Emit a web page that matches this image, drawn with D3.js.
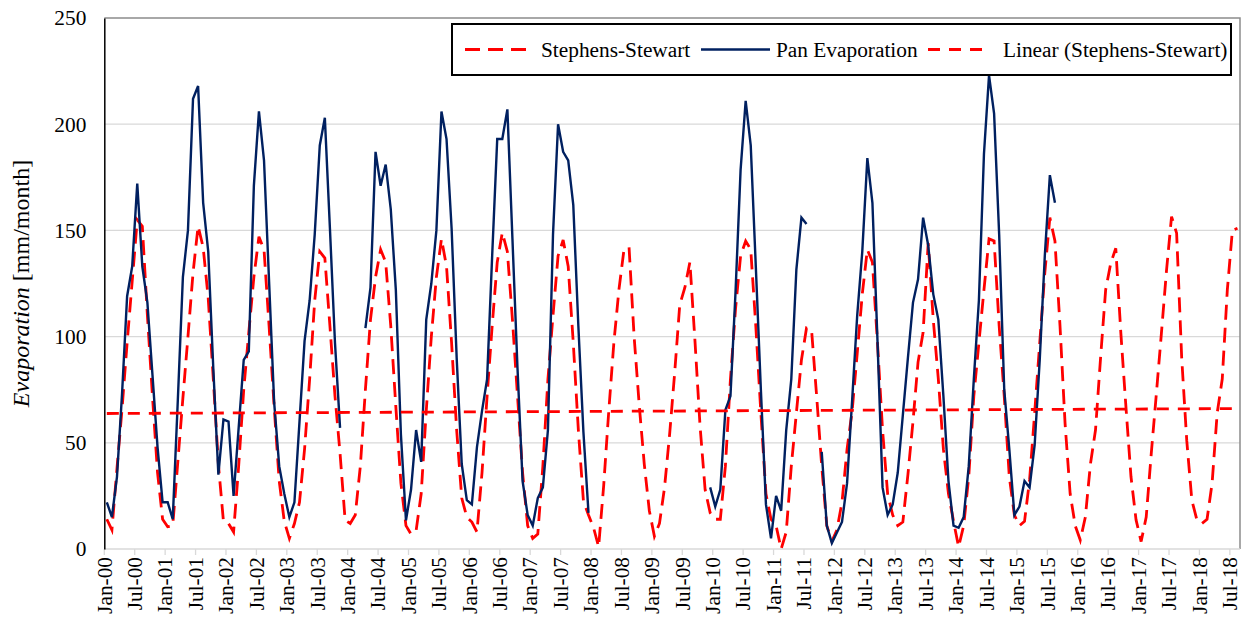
<!DOCTYPE html>
<html>
<head>
<meta charset="utf-8">
<script src="https://cdn.jsdelivr.net/npm/d3@7"></script>
<style>
  html, body { margin: 0; padding: 0; background: #ffffff; }
  svg { display: block; font-family: "Liberation Serif", "Times New Roman", serif; }
</style>
</head>
<body>
<svg id="chart" width="1247" height="621"></svg>
<script>
// Monthly evaporation, first month January 2000
const startMonth = new Date(2000, 0, 1);

// Stephens-Stewart estimate, mm/month (Jan-00 .. Aug-18)
const stephensStewart = [
  14, 9, 38, 66, 97, 126, 155, 152, 110, 72, 36, 14,          // 2000
  10.5, 11, 41, 71, 100, 130, 152, 142, 118, 80, 40, 13,      // 2001
  12, 8, 39, 75, 102, 128, 147, 141, 105, 67, 32, 13,         // 2002
  5, 12, 22, 47, 80, 117, 140, 137, 105, 72, 45, 13.5,        // 2003
  12, 16, 39, 75, 108, 128, 141, 135, 105, 67, 31, 11,        // 2004
  7, 8.6, 26, 65, 100, 128, 146, 133, 97, 56, 24, 15,         // 2005
  12.7, 8, 36, 72, 105, 135, 149, 140, 108, 72, 36, 11,       // 2006
  5, 7, 39, 80, 110, 138, 145.5, 133, 97, 56, 22.6, 16,       // 2007
  10, 1, 30, 65, 97, 122, 141, 142, 100, 68, 40, 18,          // 2008
  6, 12, 29, 54, 83, 115, 123, 135, 98, 58, 28, 17,           // 2009
  14, 14, 39, 80, 113, 138, 145, 141, 105, 64, 26, 14,        // 2010
  11, 0, 8, 39, 64, 89, 104, 103, 72, 39, 11, 3.6,            // 2011
  9, 22, 47, 65, 92, 120, 141, 135, 97, 56, 26, 16,           // 2012
  11, 12.7, 35, 60, 88, 102, 144, 108, 80, 47, 26, 13,        // 2013
  1, 11, 34, 72, 97, 122, 146, 145, 105, 72, 34, 16,          // 2014
  11, 13, 32.5, 64, 97, 130, 156, 145, 105, 59, 26, 11,       // 2015
  4.2, 15, 40, 56, 90, 122, 134.5, 141.6, 101.6, 67, 34, 13.7, // 2016
  3.5, 15, 45, 73, 101.6, 131, 156.5, 148.7, 90, 51, 23, 13.7, // 2017
  12, 14, 31, 64, 80, 122, 150, 151                           // 2018
];

// Measured pan evaporation, mm/month (null = no record)
const panEvaporation = [
  22, 15, 34, 73, 119, 133, 172, 133, 116, 82, 48, 22,        // 2000
  22, 14, 70, 128, 150, 212, 218, 163, 140, 85, 35, 61,       // 2001
  60, 25, 57, 89, 93, 171, 206, 183, 126, 69, 39, 26,         // 2002
  15, 22, 60, 98, 117, 148, 190, 203, 151, 97, 57, null,      // 2003
  null, null, null, 104, 123, 187, 171, 181, 160, 122, 54, 13.5, // 2004
  28, 56, 41, 108, 125, 150, 206, 193, 151, 90, 40, 23,       // 2005
  21, 48, 65, 80, 138, 193, 193, 207, 146, 85, 32, 16,        // 2006
  11, 24, 29, 56, 148, 200, 187, 183, 162, 105, 55, 17,       // 2007
  null, null, null, null, null, null, null, null, null, null, null, null, // 2008
  null, null, null, null, null, null, null, null, null, null, null, 29,   // 2009
  20, 28, 65.5, 72, 121, 178.5, 211, 190, 133, 75, 21, 5,     // 2010
  25, 18, 56, 80, 131.5, 156, 153, null, null, 45.7, 11, 2.8, // 2011
  7.8, 12.7, 31, 70, 110, 140, 184, 163, 98, 29, 16, 21,      // 2012
  36, 63, 90, 116, 127, 156, 143, 120, 108, 72, 32, 11,       // 2013
  10, 15, 39, 80, 117, 186, 223, 205, 148, 75, 47, 16,        // 2014
  20, 32, 29, 49, 89, 138, 176, 163                           // 2015
];

// Linear trend of the Stephens-Stewart series at its first and last month
const trendEnds = [63.8, 66.1];

const yTicks = [0, 50, 100, 150, 200, 250];
const seriesNames = ["Stephens-Stewart", "Pan Evaporation", "Linear (Stephens-Stewart)"];

// ---- layout ----
const plot = { left: 104.3, right: 1240, top: 18, bottom: 549 };
const RED = "#ff0000", NAVY = "#002060", GRID = "#d9d9d9", BORDER = "#8c8c8c";
const FONT = 21.33;

const svg = d3.select("#chart");

const months = d3.timeMonth.range(startMonth, d3.timeMonth.offset(startMonth, stephensStewart.length));
const idx = d3.range(months.length);

const x = d3.scaleBand().domain(idx).range([plot.left, plot.right]).paddingInner(0).paddingOuter(0);
const cx = i => x(i) + x.bandwidth() / 2;
const y = d3.scaleLinear().domain([0, 250]).range([plot.bottom, plot.top]);

// horizontal gridlines
svg.append("g")
  .selectAll("line")
  .data(yTicks.filter(v => v > 0 && v < 250))
  .join("line")
  .attr("x1", plot.left).attr("x2", plot.right)
  .attr("y1", d => y(d)).attr("y2", d => y(d))
  .attr("stroke", GRID).attr("stroke-width", 1.3);

// plot-area border (top and right)
svg.append("path")
  .attr("d", `M${plot.left},${y(250)}H${plot.right}V${plot.bottom}`)
  .attr("fill", "none").attr("stroke", BORDER).attr("stroke-width", 1.5);

// x axis: ticks at the start of every January and July
const fmt = d3.timeFormat("%b-%y");
const tickIdx = idx.filter(i => months[i].getMonth() % 6 === 0);
const xAxis = svg.append("g")
  .attr("transform", `translate(${-x.bandwidth() / 2},${plot.bottom})`)
  .call(d3.axisBottom(x).tickValues(tickIdx).tickFormat(i => fmt(months[i])).tickSize(6).tickSizeOuter(0));
xAxis.select(".domain").remove();
xAxis.selectAll(".tick line").attr("stroke", GRID).attr("stroke-width", 1.3);
xAxis.selectAll(".tick text")
  .attr("transform", "rotate(-90)")
  .attr("text-anchor", "end")
  .attr("x", -8).attr("y", 0).attr("dy", "0.34em")
  .attr("fill", "#000")
  .style("font-size", FONT + "px")
  .style("font-family", "'Liberation Serif', 'Times New Roman', serif");

svg.append("line")
  .attr("x1", plot.left).attr("x2", plot.right)
  .attr("y1", plot.bottom).attr("y2", plot.bottom)
  .attr("stroke", GRID).attr("stroke-width", 1.5);

// y axis
const yAxis = svg.append("g")
  .attr("transform", `translate(${plot.left},0)`)
  .call(d3.axisLeft(y).tickValues(yTicks).tickSize(0).tickSizeOuter(0).tickPadding(18));
yAxis.select(".domain").attr("stroke", "#000").attr("stroke-width", 1.5);
yAxis.selectAll(".tick text")
  .attr("fill", "#000")
  .style("font-size", FONT + "px")
  .style("font-family", "'Liberation Serif', 'Times New Roman', serif");

// y title
const yTitle = svg.append("text")
  .attr("transform", `translate(29,${(plot.top + plot.bottom) / 2}) rotate(-90)`)
  .attr("text-anchor", "middle")
  .style("font-size", "24px");
yTitle.append("tspan").style("font-style", "italic").text("Evaporation");
yTitle.append("tspan").text(" [mm/month]");

// series
const line = d3.line()
  .defined(d => d.v != null)
  .x(d => cx(d.i))
  .y(d => y(d.v));

const ssPoints = stephensStewart.map((v, i) => ({ i, v }));
const panPoints = panEvaporation.map((v, i) => ({ i, v }));
const trendPoints = [
  { i: 0, v: trendEnds[0] },
  { i: stephensStewart.length - 1, v: trendEnds[1] }
];

const ssStyle = { stroke: RED, width: 2.8, dash: "15,8" };
const panStyle = { stroke: NAVY, width: 2.4, dash: null };
const trendStyle = { stroke: RED, width: 2.8, dash: "12,9" };

function drawSeries(points, st) {
  svg.append("path")
    .datum(points)
    .attr("d", line)
    .attr("fill", "none")
    .attr("stroke", st.stroke)
    .attr("stroke-width", st.width)
    .attr("stroke-linejoin", "miter")
    .attr("stroke-dasharray", st.dash);
}
drawSeries(ssPoints, ssStyle);
drawSeries(panPoints, panStyle);
drawSeries(trendPoints, trendStyle);

// legend
const legend = svg.append("g");
legend.append("rect")
  .attr("x", 452).attr("y", 24).attr("width", 779).attr("height", 51)
  .attr("fill", "#fff").attr("stroke", "#000").attr("stroke-width", 2);

const legendItems = [
  { name: seriesNames[0], st: ssStyle, x1: 465, x2: 534, tx: 541 },
  { name: seriesNames[1], st: panStyle, x1: 701, x2: 770, tx: 776 },
  { name: seriesNames[2], st: trendStyle, x1: 928, x2: 990, tx: 1003 }
];
legendItems.forEach(it => {
  legend.append("line")
    .attr("x1", it.x1).attr("x2", it.x2)
    .attr("y1", 49.5).attr("y2", 49.5)
    .attr("stroke", it.st.stroke)
    .attr("stroke-width", it.st.width)
    .attr("stroke-dasharray", it.st.dash);
  legend.append("text")
    .attr("x", it.tx).attr("y", 56.5)
    .style("font-size", FONT + "px")
    .text(it.name);
});
</script>
</body>
</html>
